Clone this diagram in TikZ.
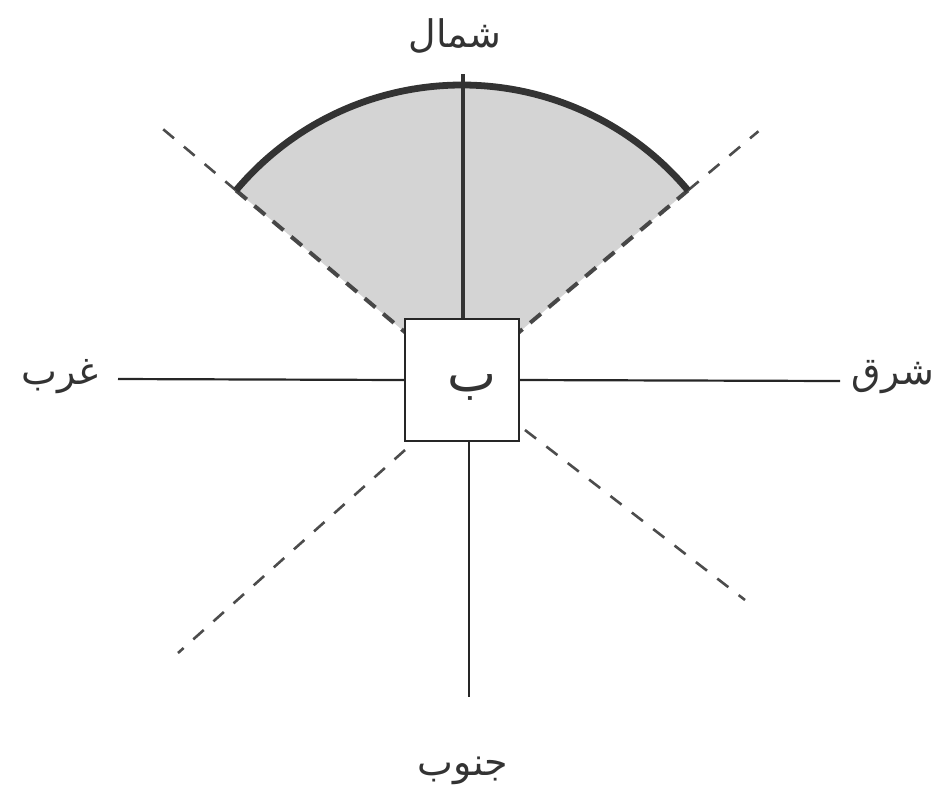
\documentclass[tikz,border=0pt]{standalone}
\usepackage{fontspec}
\usetikzlibrary{calc}
\newfontfamily\arabicfont[Script=Arabic]{DejaVu Sans}
\TeXXeTstate=1
\begin{document}
\begin{tikzpicture}[x=0.5pt,y=-0.5pt,
  axis/.style={line width=1.1pt, black!85},
  dashline/.style={line width=1.3pt, black!70, dash pattern=on 7pt off 6.5pt},
  sectoredge/.style={line width=2pt, black!72, dash pattern=on 7pt off 5pt},
  lbl/.style={font=\arabicfont\fontsize{19}{22}\selectfont, text=black!80, inner sep=0pt},
  centerbox/.style={draw=black!85, line width=1.1pt, fill=white, minimum width=57pt, minimum height=61pt, inner sep=0pt}]
\useasboundingbox (0,0) rectangle (942,805);
% centre of the sector
\coordinate (c) at (462,380);
% sector
\fill[black!17] (c) -- ++(-140:295) arc[start angle=-140, end angle=-40, radius=295] -- cycle;
% dashed boundaries (outer thin parts)
\coordinate (a1) at ($(c)+(-140:295)$);
\coordinate (a2) at ($(c)+(-40:295)$);
\coordinate (ul) at ($(c)+(-140:393)$);
\coordinate (ur) at ($(c)+(-40:387)$);
\draw[dashline] (a1) -- (ul);
\draw[dashline] (a2) -- (ur);
% sector edges
\draw[sectoredge] (a1) -- (c);
\draw[sectoredge] (a2) -- (c);
\coordinate (ll) at (178,653);
\coordinate (lr) at (745,600);
% arc
\draw[line width=3.4pt, black!80] (a1) arc[start angle=-140, end angle=-40, radius=295];
% north line
\coordinate (ntop) at (463,74);
\draw[line width=2.4pt, black!80] (ntop) -- (463,330);
% box
\node[centerbox] (b) at (462,380) {};
\node[lbl, font=\arabicfont\fontsize{26}{30}\selectfont] (bl) at (472,387) {\beginR ب\endR};
% lower dashed lines
\draw[dashline] (405,450) -- (ll);
\draw[dashline] (525,430) -- (lr);
% axes
\coordinate (wend) at (118,379);
\coordinate (eend) at (840,381);
\coordinate (send) at (469,697);
\draw[axis] (b.west) -- (wend);
\draw[axis] (b.east) -- (eend);
\draw[axis] (469,441) -- (send);
% labels
\node[lbl] (north) at (455,36) {\beginR شمال\endR};
\node[lbl] (west) at (60,377) {\beginR غرب\endR};
\node[lbl] (east) at (893,377) {\beginR شرق\endR};
\node[lbl] (south) at (463,771) {\beginR جنوب\endR};
\end{tikzpicture}
\end{document}
